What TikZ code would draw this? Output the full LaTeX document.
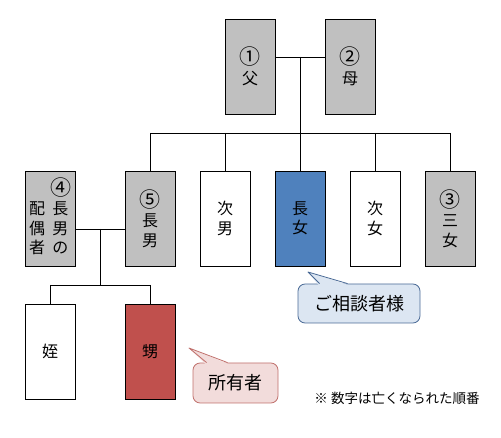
\documentclass[tikz,border=0pt]{standalone}
\usepackage{fontspec}
\setmainfont{Noto Sans CJK JP}
\usepackage{tikz}
\usetikzlibrary{positioning,calc}
\definecolor{Gone}{HTML}{C0C0C0}
\definecolor{Asker}{HTML}{4F81BD}
\definecolor{Owner}{HTML}{C0504D}
\definecolor{AskFill}{HTML}{DCE6F2}
\definecolor{AskLine}{HTML}{4A6A96}
\definecolor{OwnFill}{HTML}{F2DCDB}
\definecolor{OwnLine}{HTML}{C0706C}
\newcommand{\circnum}[1]{{\fontsize{21}{19}\selectfont #1}}

\begin{document}
\begin{tikzpicture}[x=1pt,y=-1pt,
  person/.style={draw=black,line width=0.8pt,minimum width=50pt,minimum height=95pt,inner sep=0pt,align=center,font=\fontsize{16}{19.5}\selectfont},
  gone/.style={person,fill=Gone},
  asker/.style={person,fill=Asker},
  owner/.style={person,fill=Owner},
  link/.style={line width=0.8pt},
  bubble/.style={rounded corners=2.5mm,line width=0.8pt,minimum height=39pt,inner sep=0pt,font=\fontsize{18}{20}\selectfont}
]
\useasboundingbox (0,0) rectangle (501,438);
\node[gone] (f) at (250,66.5) {\circnum{①}\\父};
\node[gone] (m) at (350,66.5) {\circnum{②}\\母};
\node[gone] (w) at (50,218.5) {\begin{tabular}{@{}c@{\hspace{5pt}}c@{}} & \circnum{④}\\ 配 & 長\\ 偶 & 男\\ 者 & の\end{tabular}};
\node[gone] (s1) at (150,218.5) {\circnum{⑤}\\長\\男};
\node[person] (s2) at (225,218.5) {次\\男};
\node[asker] (d1) at (300,218.5) {長\\女};
\node[person] (d2) at (375,218.5) {次\\女};
\node[gone] (d3) at (450,218.5) {\circnum{③}\\三\\女};
\node[person] (n1) at (50,351.5) {姪};
\node[owner] (n2) at (150,351.5) {甥};
\coordinate (pm) at (300,57);
\coordinate (pb) at (300,133);
\coordinate (sm) at (100,229);
\coordinate (sb) at (100,285);
\draw[link] (pm -| f.east) -- (pm -| m.west);
\draw[link] (pm) -- (pb);
\draw[link] (pb -| s1.north) -- (pb -| d3.north);
\foreach \c in {s1,s2,d1,d2,d3} \draw[link] (pb -| \c.north) -- (\c.north);
\draw[link] (sm -| w.east) -- (sm -| s1.west);
\draw[link] (sm) -- (sb);
\draw[link] (sb -| n1.north) -- (sb -| n2.north);
\foreach \c in {n1,n2} \draw[link] (sb -| \c.north) -- (\c.north);
\node[bubble,draw=AskLine,fill=AskFill,minimum width=122pt] (ask) at (359,303.5) {ご相談者様};
\coordinate (at) at (308,272);
\fill[AskFill] ([xshift=21pt,yshift=-1.5pt]ask.north west) -- (at) -- ([xshift=51pt,yshift=-1.5pt]ask.north west) -- cycle;
\draw[AskLine,line width=0.8pt,line join=round] ([xshift=22pt]ask.north west) -- (at) -- ([xshift=50pt]ask.north west);
\node[bubble,draw=OwnLine,fill=OwnFill,minimum width=85pt,minimum height=40pt] (own) at (235.5,383) {所有者};
\coordinate (ot) at (189,348);
\fill[OwnFill] ([xshift=13pt,yshift=-1.5pt]own.north west) -- (ot) -- ([xshift=36pt,yshift=-1.5pt]own.north west) -- cycle;
\draw[OwnLine,line width=0.8pt,line join=round] ([xshift=14pt]own.north west) -- (ot) -- ([xshift=35pt]own.north west);
\node[font=\fontsize{13.5}{16}\selectfont] (note) at (397,398) {※ 数字は亡くなられた順番};
\end{tikzpicture}
\end{document}
